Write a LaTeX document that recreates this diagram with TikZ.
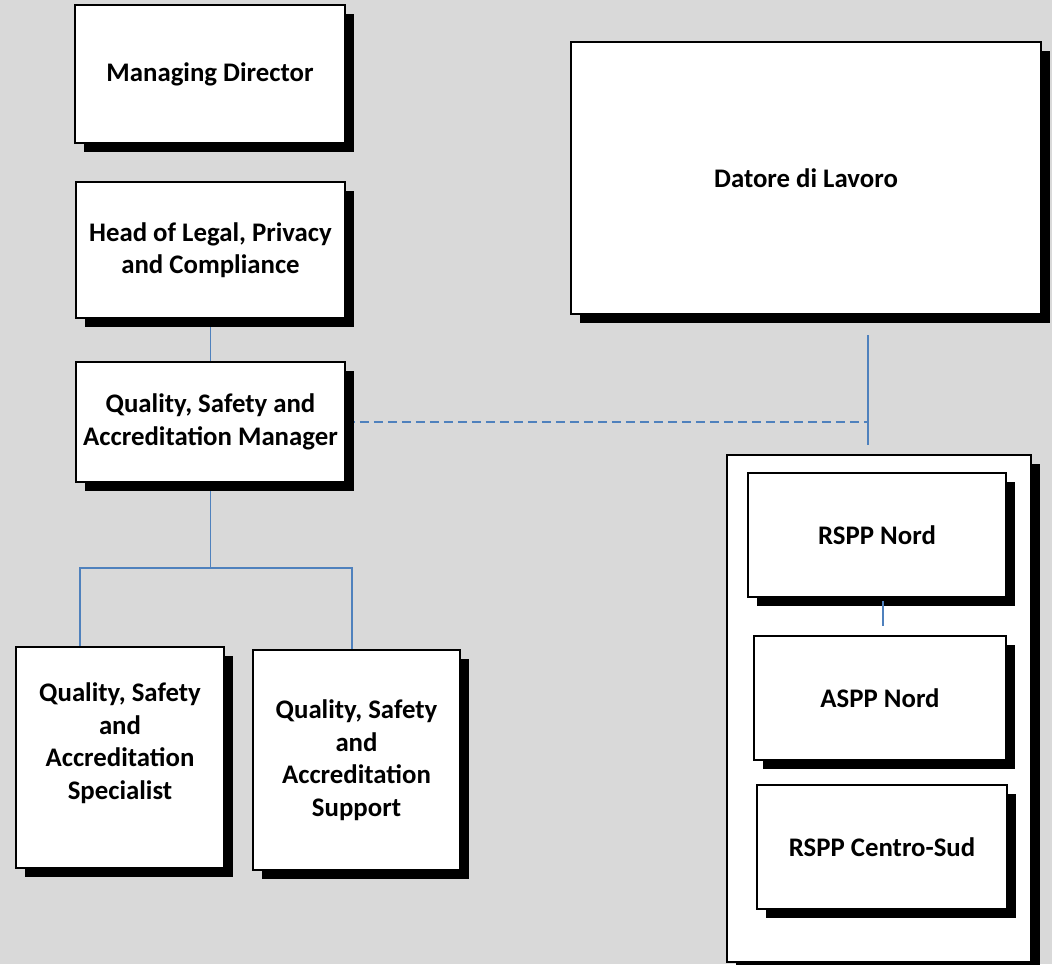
\documentclass[tikz,border=0pt]{standalone}
\usepackage{fontspec}
\setmainfont{Carlito}
\usepackage{xcolor}
\usepackage{tikz}
\usetikzlibrary{shadows}
\definecolor{pagegray}{HTML}{D9D9D9}
\definecolor{linkblue}{HTML}{4F81BD}
\pgfdeclarelayer{bg}
\pgfsetlayers{bg,main}
\begin{document}
\begin{tikzpicture}[x=1pt,y=-1pt,
	box/.style={draw=black,fill=white,line width=1.5pt,inner sep=0pt,align=center,
		font=\fontsize{26.8}{32.5}\selectfont\bfseries,
		drop shadow={shadow xshift=9pt,shadow yshift=-9pt,opacity=1,fill=black}},
	link/.style={draw=linkblue,line width=1.5pt},
	dotlink/.style={link,dash pattern=on 9pt off 5pt}]
	\useasboundingbox (0,0) rectangle (1052,964);
	%
	%  BOXES LEFT
	%
	\node[box,minimum width=270,minimum height=138] (md) at (210,74) {Managing Director};
	\node[box,minimum width=269,minimum height=136] (head) at (210.5,250) {Head of Legal, Privacy\\and Compliance};
	\node[box,minimum width=269,minimum height=120] (qsam) at (210.5,422) {Quality, Safety and\\Accreditation Manager};
	\node[box,minimum width=208,minimum height=221] (spec) at (120,757.5) {Quality, Safety\\and\\Accreditation\\Specialist\\[0pt]};
	\node[box,minimum width=207,minimum height=220] (supp) at (356.5,760) {Quality, Safety\\and\\Accreditation\\Support};
	%
	%  BOXES RIGHT
	%
	\node[box,minimum width=470,minimum height=272] (dl) at (806,178) {Datore di Lavoro};
	\node[box,minimum width=304,minimum height=507] (rspp) at (879,708.5) {};
	\node[box,minimum width=258,minimum height=124] (rsppn) at (877,535) {RSPP Nord};
	\node[box,minimum width=252,minimum height=124] (asppn) at (880,698) {ASPP Nord};
	\node[box,minimum width=250,minimum height=124] (rsppcs) at (882,847) {RSPP Centro-Sud};
	%
	%  LINKS
	%
	\coordinate (forkL) at (80,568);
	\coordinate (forkR) at (352,568);
	\coordinate (dlfoot) at (868,335);
	\begin{pgfonlayer}{bg}
		\fill[pagegray] (0,0) rectangle (1052,964);
		\draw[link] (head.south) -- (qsam.north);
		\draw[link] (qsam.south) -- (qsam.south |- forkL);
		\draw[link] (forkL |- spec.north) -- (forkL) -- (forkR) -- (forkR |- supp.north);
		\draw[dotlink] (qsam.east) -- (qsam.east -| dlfoot);
	\end{pgfonlayer}
	\draw[link] (dlfoot) -- ([yshift=9pt]dlfoot |- rspp.north);
	\draw[link] ([xshift=6pt,yshift=-3pt]rsppn.south) -- ([xshift=6pt,yshift=9pt]rsppn.south |- asppn.north);
\end{tikzpicture}
\end{document}
